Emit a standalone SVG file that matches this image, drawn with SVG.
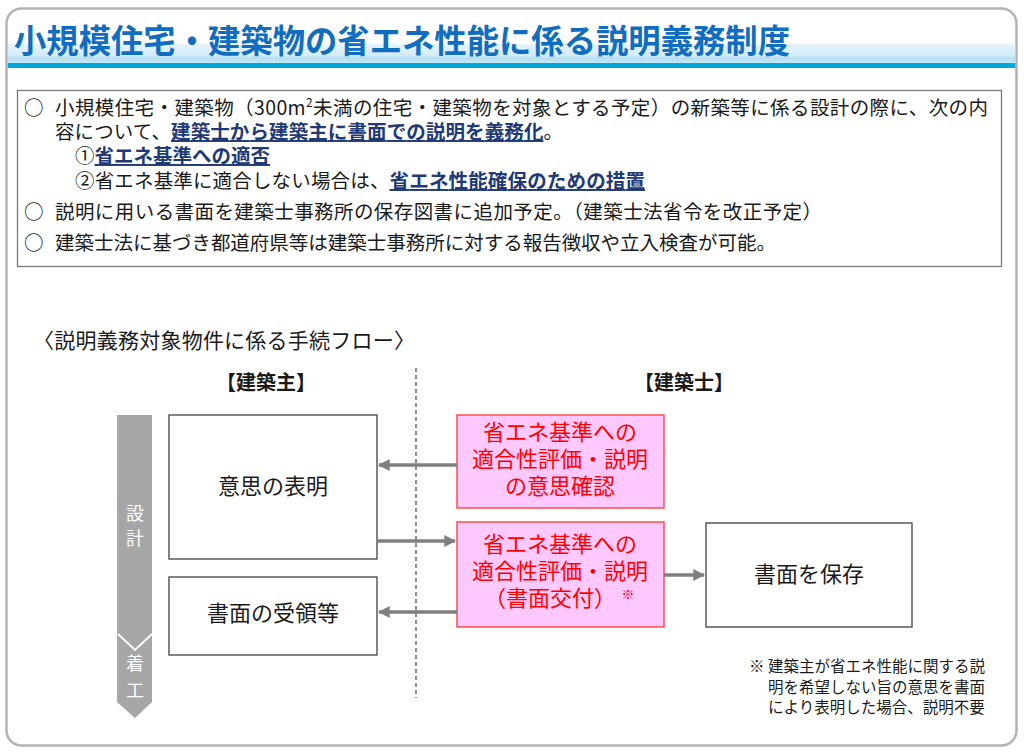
<svg xmlns="http://www.w3.org/2000/svg" width="1024" height="753" viewBox="0 0 1024 753">
<defs>
<style>
.jp{font-family:"Noto Sans CJK JP","Noto Sans",sans-serif;}
.body{font-size:19.5px;fill:#1a1a1a;}
.hl{font-weight:bold;fill:#1f3a75;text-decoration:underline;}
.box{fill:#ffffff;stroke:#404040;stroke-width:1.3;}
.pink{fill:#ffc9ff;stroke:#ff4d4d;stroke-width:1.5;}
.ptxt{font-size:22px;fill:#ff0000;text-anchor:middle;}
.btxt{font-size:22px;fill:#1a1a1a;text-anchor:middle;}
.conn{stroke:#7f7f7f;stroke-width:3.5;fill:none;}
.note{font-size:15.5px;fill:#1a1a1a;}
</style>
<marker id="ah" viewBox="0 0 10 10" refX="9" refY="5" markerWidth="3.4" markerHeight="3.4" orient="auto" markerUnits="strokeWidth">
<path d="M0,0 L10,5 L0,10 z" fill="#7f7f7f"/>
</marker>
<linearGradient id="band" x1="0" y1="0" x2="0" y2="1">
<stop offset="0" stop-color="#e6f4fb"/>
<stop offset="0.6" stop-color="#d2ecf8"/>
<stop offset="0.75" stop-color="#b5e0f1"/>
<stop offset="1" stop-color="#c6e8f5"/>
</linearGradient>
</defs>
<rect x="0" y="0" width="1024" height="753" fill="#ffffff"/>
<g id="frame">
<rect x="6.5" y="8.5" width="1010" height="737" rx="15" ry="15" fill="#ffffff" stroke="#b3b3b3" stroke-width="2.5"/>
<rect x="7.8" y="44" width="1007.5" height="19" fill="url(#band)"/>
<rect x="7.8" y="63" width="1007.5" height="5" fill="#00a9d9"/>
<text x="14" y="53" class="jp" font-size="33" font-weight="bold" fill="#116dc0" textLength="776" lengthAdjust="spacingAndGlyphs">小規模住宅・建築物の省エネ性能に係る説明義務制度</text>
</g>
<g id="summary">
<rect x="17.5" y="90.5" width="984" height="176" fill="#ffffff" stroke="#7a7a7a" stroke-width="1.3"/>
<text class="jp body" x="24" y="115">○</text>
<text class="jp body" x="55" y="115" textLength="933">小規模住宅・建築物（300m<tspan font-size="12" dy="-8">2</tspan><tspan dy="8">未満の住宅・建築物を対象とする予定）の新築等に係る設計の際に、次の内</tspan></text>
<text class="jp body" x="55" y="139" textLength="508">容について、<tspan class="hl">建築士から建築主に書面での説明を義務化</tspan>。</text>
<text class="jp body" x="75" y="163">①<tspan class="hl">省エネ基準への適否</tspan></text>
<text class="jp body" x="75" y="188" textLength="570">②省エネ基準に適合しない場合は、<tspan class="hl">省エネ性能確保のための措置</tspan></text>
<text class="jp body" x="24" y="219">○</text>
<text class="jp body" x="55" y="219" textLength="767">説明に用いる書面を建築士事務所の保存図書に追加予定。（建築士法省令を改正予定）</text>
<text class="jp body" x="24" y="250">○</text>
<text class="jp body" x="55" y="250" textLength="721">建築士法に基づき都道府県等は建築士事務所に対する報告徴収や立入検査が可能。</text>
</g>
<g id="flow-title">
<text class="jp" x="33" y="348" font-size="21" fill="#1a1a1a" textLength="382">〈説明義務対象物件に係る手続フロー〉</text>
<text class="jp" x="266" y="390" font-size="20" font-weight="bold" fill="#1a1a1a" text-anchor="middle">【建築主】</text>
<text class="jp" x="684" y="390" font-size="20" font-weight="bold" fill="#1a1a1a" text-anchor="middle">【建築士】</text>
</g>
<g id="divider">
<line x1="416" y1="368" x2="416" y2="698" stroke="#555555" stroke-width="1.3" stroke-dasharray="4,3"/>
</g>
<g id="timeline">
<path d="M117,415 H152 V702 L135,718 L117,702 Z" fill="#a6a6a6"/>
<path d="M118,634 L135,650 L152,634" fill="none" stroke="#ffffff" stroke-width="2"/>
<text class="jp" x="135" y="520" font-size="18" fill="#ffffff" text-anchor="middle">設</text>
<text class="jp" x="135" y="545" font-size="18" fill="#ffffff" text-anchor="middle">計</text>
<text class="jp" x="135" y="670" font-size="18" fill="#ffffff" text-anchor="middle">着</text>
<text class="jp" x="135" y="697" font-size="18" fill="#ffffff" text-anchor="middle">工</text>
</g>
<g id="node-ishi">
<rect class="box" x="169" y="415" width="208" height="144"/>
<text class="jp btxt" x="273" y="494">意思の表明</text>
</g>
<g id="node-juryo">
<rect class="box" x="169" y="577" width="208" height="78"/>
<text class="jp btxt" x="273" y="621">書面の受領等</text>
</g>
<g id="node-kakunin">
<rect class="pink" x="457" y="415" width="207" height="93"/>
<text class="jp ptxt" x="560" y="440">省エネ基準への</text>
<text class="jp ptxt" x="560" y="467">適合性評価・説明</text>
<text class="jp ptxt" x="560" y="494">の意思確認</text>
</g>
<g id="node-kofu">
<rect class="pink" x="457" y="522" width="207" height="105"/>
<text class="jp ptxt" x="560" y="552">省エネ基準への</text>
<text class="jp ptxt" x="560" y="579">適合性評価・説明</text>
<text class="jp ptxt" x="550" y="606">（書面交付）</text>
<text class="jp" x="628" y="599" font-size="13" fill="#ff0000" text-anchor="middle">※</text>
</g>
<g id="node-hozon">
<rect class="box" x="706" y="523" width="206" height="104"/>
<text class="jp btxt" x="809" y="582">書面を保存</text>
</g>
<g id="connectors">
<line class="conn" x1="457" y1="465" x2="379" y2="465" marker-end="url(#ah)"/>
<line class="conn" x1="377" y1="541" x2="455" y2="541" marker-end="url(#ah)"/>
<line class="conn" x1="457" y1="612" x2="379" y2="612" marker-end="url(#ah)"/>
<line class="conn" x1="664" y1="575" x2="704" y2="575" marker-end="url(#ah)"/>
</g>
<g id="footnote">
<text class="jp note" x="749" y="672">※</text>
<text class="jp note" x="768" y="672">建築主が省エネ性能に関する説</text>
<text class="jp note" x="768" y="693">明を希望しない旨の意思を書面</text>
<text class="jp note" x="768" y="713">により表明した場合、説明不要</text>
</g>
</svg>
